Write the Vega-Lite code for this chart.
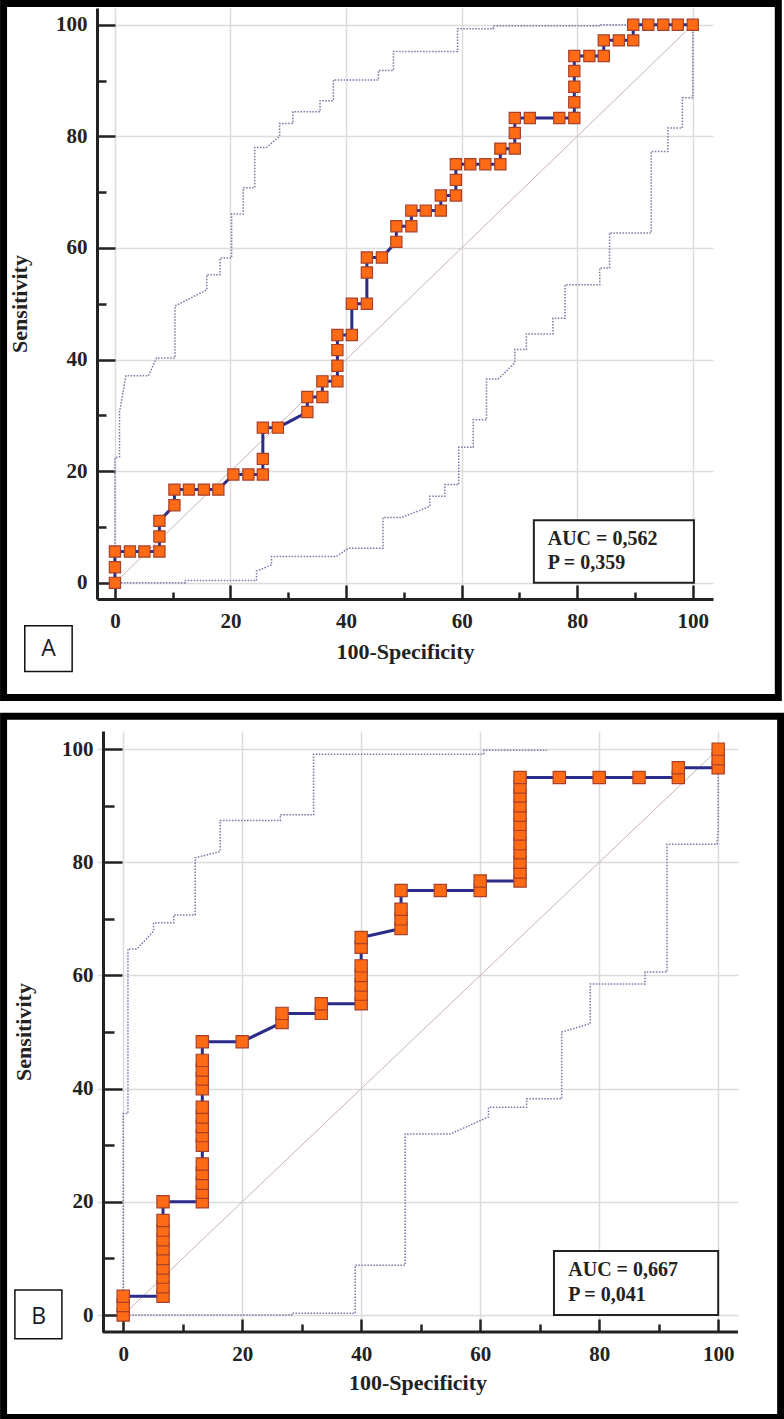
{
  "$schema": "https://vega.github.io/schema/vega-lite/v6.json",
  "background": "white",
  "padding": 0,
  "autosize": {"type": "pad"},
  "config": {
    "view": {"stroke": null},
    "axis": {
      "domainColor": "#222222", "domainWidth": 3,
      "tickColor": "#222222", "tickWidth": 2.5,
      "labelFont": "Liberation Serif", "labelFontWeight": "bold", "labelFontSize": 21, "labelColor": "#222222",
      "titleFont": "Liberation Serif", "titleFontWeight": "bold", "titleFontSize": 22, "titleColor": "#222222",
      "gridColor": "#dcdcdc", "gridWidth": 1.5,
      "labelFlush": false, "labelOverlap": false
    }
  },
  "datasets": {
    "rocA": [
      {"x":0,"y":0},{"x":0,"y":2.8},{"x":0,"y":5.6},{"x":2.6,"y":5.6},{"x":5.1,"y":5.6},{"x":7.7,"y":5.6},{"x":7.7,"y":8.3},{"x":7.7,"y":11.1},
      {"x":10.3,"y":13.9},{"x":10.3,"y":16.7},{"x":12.8,"y":16.7},{"x":15.4,"y":16.7},{"x":17.9,"y":16.7},{"x":20.5,"y":19.4},{"x":23.1,"y":19.4},
      {"x":25.6,"y":19.4},{"x":25.6,"y":22.2},{"x":25.6,"y":27.8},{"x":28.2,"y":27.8},{"x":33.3,"y":30.6},{"x":33.3,"y":33.3},{"x":35.9,"y":33.3},
      {"x":35.9,"y":36.1},{"x":38.5,"y":36.1},{"x":38.5,"y":38.9},{"x":38.5,"y":41.7},{"x":38.5,"y":44.4},{"x":41.0,"y":44.4},{"x":41.0,"y":50.0},
      {"x":43.6,"y":50.0},{"x":43.6,"y":55.6},{"x":43.6,"y":58.3},{"x":46.2,"y":58.3},{"x":48.7,"y":61.1},{"x":48.7,"y":63.9},{"x":51.3,"y":63.9},
      {"x":51.3,"y":66.7},{"x":53.8,"y":66.7},{"x":56.4,"y":66.7},{"x":56.4,"y":69.4},{"x":59.0,"y":69.4},{"x":59.0,"y":72.2},{"x":59.0,"y":75.0},
      {"x":61.5,"y":75.0},{"x":64.1,"y":75.0},{"x":66.7,"y":75.0},{"x":66.7,"y":77.8},{"x":69.2,"y":77.8},{"x":69.2,"y":80.6},{"x":69.2,"y":83.3},
      {"x":71.8,"y":83.3},{"x":76.9,"y":83.3},{"x":79.5,"y":83.3},{"x":79.5,"y":86.1},{"x":79.5,"y":88.9},{"x":79.5,"y":91.7},{"x":79.5,"y":94.4},
      {"x":82.1,"y":94.4},{"x":84.6,"y":94.4},{"x":84.6,"y":97.2},{"x":87.2,"y":97.2},{"x":89.7,"y":97.2},{"x":89.7,"y":100},{"x":92.3,"y":100},
      {"x":94.9,"y":100},{"x":97.4,"y":100},{"x":100,"y":100}
    ],
    "bandA": [
      {"band":"upper","x":0,"y":0},{"band":"upper","x":0,"y":22.4},{"band":"upper","x":0.8,"y":22.6},{"band":"upper","x":0.8,"y":30.6},
      {"band":"upper","x":1.9,"y":37.1},{"band":"upper","x":5.8,"y":37.1},{"band":"upper","x":7.2,"y":40.3},{"band":"upper","x":10.4,"y":40.3},
      {"band":"upper","x":10.4,"y":49.6},{"band":"upper","x":15.9,"y":52.5},{"band":"upper","x":15.9,"y":55.2},{"band":"upper","x":18.2,"y":55.2},
      {"band":"upper","x":18.2,"y":58.2},{"band":"upper","x":20.2,"y":58.2},{"band":"upper","x":20.2,"y":66.1},{"band":"upper","x":22.2,"y":66.1},
      {"band":"upper","x":22.2,"y":70.8},{"band":"upper","x":24.2,"y":70.8},{"band":"upper","x":24.2,"y":78.0},{"band":"upper","x":26.2,"y":78.0},
      {"band":"upper","x":28.5,"y":80.0},{"band":"upper","x":28.5,"y":82.3},{"band":"upper","x":30.8,"y":82.3},{"band":"upper","x":30.8,"y":84.4},
      {"band":"upper","x":35.5,"y":84.4},{"band":"upper","x":35.5,"y":86.4},{"band":"upper","x":37.8,"y":86.4},{"band":"upper","x":37.8,"y":90.1},
      {"band":"upper","x":45.6,"y":90.1},{"band":"upper","x":45.6,"y":91.8},{"band":"upper","x":48.2,"y":91.8},{"band":"upper","x":48.2,"y":95.2},
      {"band":"upper","x":59.3,"y":95.2},{"band":"upper","x":59.3,"y":99.3},{"band":"upper","x":65.5,"y":99.3},{"band":"upper","x":65.5,"y":99.8},
      {"band":"upper","x":84.0,"y":99.8},{"band":"upper","x":84.0,"y":100},{"band":"upper","x":100,"y":100},
      {"band":"lower","x":0,"y":0},{"band":"lower","x":12.2,"y":0},{"band":"lower","x":12.2,"y":0.4},{"band":"lower","x":24.5,"y":0.4},
      {"band":"lower","x":24.5,"y":2.1},{"band":"lower","x":27.1,"y":3.2},{"band":"lower","x":27.1,"y":4.7},{"band":"lower","x":38.3,"y":4.7},
      {"band":"lower","x":40.4,"y":6.2},{"band":"lower","x":46.4,"y":6.2},{"band":"lower","x":46.4,"y":11.7},{"band":"lower","x":49.6,"y":11.7},
      {"band":"lower","x":54.5,"y":13.7},{"band":"lower","x":54.5,"y":15.5},{"band":"lower","x":57.1,"y":15.5},{"band":"lower","x":57.1,"y":17.6},
      {"band":"lower","x":59.5,"y":17.6},{"band":"lower","x":59.5,"y":24.3},{"band":"lower","x":62.0,"y":24.3},{"band":"lower","x":62.0,"y":29.2},
      {"band":"lower","x":64.3,"y":29.2},{"band":"lower","x":64.3,"y":36.5},{"band":"lower","x":66.3,"y":36.5},{"band":"lower","x":69.2,"y":39.4},
      {"band":"lower","x":69.2,"y":41.8},{"band":"lower","x":71.2,"y":41.8},{"band":"lower","x":71.2,"y":44.6},{"band":"lower","x":75.8,"y":44.6},
      {"band":"lower","x":75.8,"y":47.4},{"band":"lower","x":77.9,"y":47.4},{"band":"lower","x":77.9,"y":53.4},{"band":"lower","x":83.9,"y":53.4},
      {"band":"lower","x":83.9,"y":56.4},{"band":"lower","x":85.6,"y":56.4},{"band":"lower","x":85.6,"y":62.7},{"band":"lower","x":92.8,"y":62.7},
      {"band":"lower","x":92.8,"y":77.3},{"band":"lower","x":95.7,"y":77.3},{"band":"lower","x":95.7,"y":81.5},{"band":"lower","x":98.2,"y":81.5},
      {"band":"lower","x":98.2,"y":86.9},{"band":"lower","x":100,"y":86.9},{"band":"lower","x":100,"y":100}
    ],
    "rocB": [
      {"x":0,"y":0},{"x":0,"y":1.7},{"x":0,"y":3.3},{"x":6.7,"y":3.3},{"x":6.7,"y":5.0},{"x":6.7,"y":6.7},{"x":6.7,"y":8.3},{"x":6.7,"y":10.0},
      {"x":6.7,"y":11.7},{"x":6.7,"y":13.3},{"x":6.7,"y":15.0},{"x":6.7,"y":16.7},{"x":6.7,"y":20.0},{"x":13.3,"y":20.0},{"x":13.3,"y":21.7},
      {"x":13.3,"y":23.3},{"x":13.3,"y":25.0},{"x":13.3,"y":26.7},{"x":13.3,"y":30.0},{"x":13.3,"y":31.7},{"x":13.3,"y":33.3},{"x":13.3,"y":35.0},
      {"x":13.3,"y":36.7},{"x":13.3,"y":40.0},{"x":13.3,"y":41.7},{"x":13.3,"y":43.3},{"x":13.3,"y":45.0},{"x":13.3,"y":48.3},{"x":20.0,"y":48.3},
      {"x":26.7,"y":51.7},{"x":26.7,"y":53.3},{"x":33.3,"y":53.3},{"x":33.3,"y":55.0},{"x":40.0,"y":55.0},{"x":40.0,"y":56.7},{"x":40.0,"y":58.3},
      {"x":40.0,"y":60.0},{"x":40.0,"y":61.7},{"x":40.0,"y":65.0},{"x":40.0,"y":66.7},{"x":46.7,"y":68.3},{"x":46.7,"y":70.0},{"x":46.7,"y":71.7},
      {"x":46.7,"y":75.0},{"x":53.3,"y":75.0},{"x":60.0,"y":75.0},{"x":60.0,"y":76.7},{"x":66.7,"y":76.7},{"x":66.7,"y":78.3},{"x":66.7,"y":80.0},
      {"x":66.7,"y":81.7},{"x":66.7,"y":83.3},{"x":66.7,"y":85.0},{"x":66.7,"y":86.7},{"x":66.7,"y":88.3},{"x":66.7,"y":90.0},{"x":66.7,"y":91.7},
      {"x":66.7,"y":93.3},{"x":66.7,"y":95.0},{"x":73.3,"y":95.0},{"x":80.0,"y":95.0},{"x":86.7,"y":95.0},{"x":93.3,"y":95.0},{"x":93.3,"y":96.7},
      {"x":100,"y":96.7},{"x":100,"y":98.3},{"x":100,"y":100}
    ],
    "bandB": [
      {"band":"upper","x":0,"y":0},{"band":"upper","x":0,"y":35.6},{"band":"upper","x":0.8,"y":35.6},{"band":"upper","x":0.8,"y":64.7},
      {"band":"upper","x":2.3,"y":64.7},{"band":"upper","x":5.1,"y":67.8},{"band":"upper","x":5.1,"y":69.3},{"band":"upper","x":8.5,"y":69.3},
      {"band":"upper","x":8.5,"y":70.7},{"band":"upper","x":12.1,"y":70.7},{"band":"upper","x":12.1,"y":80.8},{"band":"upper","x":16.3,"y":81.9},
      {"band":"upper","x":16.3,"y":87.4},{"band":"upper","x":26.4,"y":87.4},{"band":"upper","x":26.4,"y":88.4},{"band":"upper","x":32.0,"y":88.4},
      {"band":"upper","x":32.0,"y":99.1},{"band":"upper","x":60.6,"y":99.1},{"band":"upper","x":60.6,"y":99.8},{"band":"upper","x":71.2,"y":99.8},
      {"band":"lower","x":0,"y":0},{"band":"lower","x":28.3,"y":0},{"band":"lower","x":28.3,"y":0.3},{"band":"lower","x":39.0,"y":0.3},
      {"band":"lower","x":39.0,"y":8.8},{"band":"lower","x":47.4,"y":8.8},{"band":"lower","x":47.4,"y":32.0},{"band":"lower","x":55.0,"y":32.0},
      {"band":"lower","x":61.4,"y":35.0},{"band":"lower","x":61.4,"y":36.7},{"band":"lower","x":67.8,"y":36.7},{"band":"lower","x":67.8,"y":38.2},
      {"band":"lower","x":73.7,"y":38.2},{"band":"lower","x":73.7,"y":50.0},{"band":"lower","x":78.5,"y":51.5},{"band":"lower","x":78.5,"y":58.5},
      {"band":"lower","x":87.7,"y":58.5},{"band":"lower","x":87.7,"y":60.6},{"band":"lower","x":91.4,"y":60.6},{"band":"lower","x":91.4,"y":83.2},
      {"band":"lower","x":99.8,"y":83.2},{"band":"lower","x":100,"y":85.9},{"band":"lower","x":100,"y":100}
    ],
    "diag": [{"x":0,"y":0},{"x":100,"y":100}],
    "one": [{}]
  },
  "vconcat": [
    {
      "width": 616,
      "height": 591,
      "layer": [
        {
          "data": {"name": "rocA"},
          "mark": {"type": "line", "strokeWidth": 0, "opacity": 0},
          "encoding": {
            "x": {"field": "x", "type": "quantitative", "scale": {"domain": [-3.1, 103.5], "nice": false, "zero": false},
              "axis": {"title": "100-Specificity", "values": [0,5,10,15,20,25,30,35,40,45,50,55,60,65,70,75,80,85,90,95,100],
                "labelExpr": "datum.value % 20 === 0 ? datum.label : ''",
                "tickSize": {"condition": {"test": "datum.value % 20 === 0", "value": -14}, "value": -7},
                "gridOpacity": {"condition": {"test": "datum.value % 20 === 0", "value": 1}, "value": 0},
                "labelPadding": 25, "titlePadding": 3}},
            "y": {"field": "y", "type": "quantitative", "scale": {"domain": [-2.9, 103.0], "nice": false, "zero": false},
              "axis": {"title": "Sensitivity", "values": [0,5,10,15,20,25,30,35,40,45,50,55,60,65,70,75,80,85,90,95,100],
                "labelExpr": "datum.value % 20 === 0 ? datum.label : ''",
                "tickSize": {"condition": {"test": "datum.value % 20 === 0", "value": -18}, "value": -9},
                "gridOpacity": {"condition": {"test": "datum.value % 20 === 0", "value": 1}, "value": 0},
                "labelPadding": 28, "titlePadding": 24}},
            "order": {"value": null}
          }
        },
        {
          "data": {"name": "one"},
          "mark": {"type": "rect", "fill": "white", "fillOpacity": 0, "stroke": "#000000", "strokeWidth": 7},
          "encoding": {
            "x": {"datum": -19.27, "type": "quantitative"},
            "x2": {"datum": 114.8},
            "y": {"datum": 103.8, "type": "quantitative"},
            "y2": {"datum": -20.57}
          }
        },
        {
          "data": {"name": "diag"},
          "mark": {"type": "line", "color": "#ccb2ae", "strokeWidth": 1},
          "encoding": {
            "x": {"field": "x", "type": "quantitative"},
            "y": {"field": "y", "type": "quantitative"}
          }
        },
        {
          "data": {"name": "bandA"},
          "mark": {"type": "line", "color": "#767aa6", "strokeWidth": 1.5, "strokeDash": [1.5, 1.5]},
          "encoding": {
            "x": {"field": "x", "type": "quantitative"},
            "y": {"field": "y", "type": "quantitative"},
            "detail": {"field": "band"},
            "order": {"value": null}
          }
        },
        {
          "data": {"name": "rocA"},
          "mark": {"type": "line", "color": "#2b2b8a", "strokeWidth": 3},
          "encoding": {
            "x": {"field": "x", "type": "quantitative"},
            "y": {"field": "y", "type": "quantitative"},
            "order": {"value": null}
          }
        },
        {
          "data": {"name": "rocA"},
          "mark": {"type": "square", "size": 125, "filled": true, "fill": "#ff6a14", "stroke": "#a8402a", "strokeWidth": 1.2, "opacity": 1},
          "encoding": {
            "x": {"field": "x", "type": "quantitative"},
            "y": {"field": "y", "type": "quantitative"}
          }
        },
        {
          "data": {"name": "one"},
          "mark": {"type": "rect", "fill": "white", "stroke": "#222222", "strokeWidth": 2},
          "encoding": {
            "x": {"datum": 72.5, "type": "quantitative"},
            "x2": {"datum": 100.2},
            "y": {"datum": 11.2, "type": "quantitative"},
            "y2": {"datum": 0}
          }
        },
        {
          "data": {"name": "one"},
          "mark": {"type": "text", "align": "left", "baseline": "middle", "font": "Liberation Serif", "fontWeight": "bold", "fontSize": 20, "color": "#222222", "lineHeight": 24},
          "encoding": {
            "x": {"datum": 74.9, "type": "quantitative"},
            "y": {"datum": 7.84, "type": "quantitative"},
            "text": {"value": ["AUC = 0,562", "P = 0,359"]}
          }
        },
        {
          "data": {"name": "one"},
          "mark": {"type": "rect", "fill": "white", "stroke": "#111111", "strokeWidth": 1.5},
          "encoding": {
            "x": {"datum": -15.6, "type": "quantitative"},
            "x2": {"datum": -7.4},
            "y": {"datum": -7.7, "type": "quantitative"},
            "y2": {"datum": -15.9}
          }
        },
        {
          "data": {"name": "one"},
          "mark": {"type": "text", "align": "center", "baseline": "middle", "font": "Open Sans", "fontSize": 23, "color": "#1a1a2a"},
          "encoding": {
            "x": {"datum": -11.5, "type": "quantitative"},
            "y": {"datum": -11.8, "type": "quantitative"},
            "text": {"value": "A"}
          }
        }
      ]
    },
    {
      "width": 641,
      "height": 601,
      "layer": [
        {
          "data": {"name": "rocB"},
          "mark": {"type": "line", "strokeWidth": 0, "opacity": 0},
          "encoding": {
            "x": {"field": "x", "type": "quantitative", "scale": {"domain": [-4.4, 103.33], "nice": false, "zero": false},
              "axis": {"title": "100-Specificity", "values": [0,5,10,15,20,25,30,35,40,45,50,55,60,65,70,75,80,85,90,95,100],
                "labelExpr": "datum.value % 20 === 0 ? datum.label : ''",
                "tickSize": {"condition": {"test": "datum.value % 20 === 0", "value": -13}, "value": -8},
                "gridOpacity": {"condition": {"test": "datum.value % 20 === 0", "value": 1}, "value": 0},
                "domain": false,
                "labelPadding": 24, "titlePadding": 3}},
            "y": {"field": "y", "type": "quantitative", "scale": {"domain": [-3.0, 103.2], "nice": false, "zero": false},
              "axis": {"title": "Sensitivity", "values": [0,5,10,15,20,25,30,35,40,45,50,55,60,65,70,75,80,85,90,95,100],
                "labelExpr": "datum.value % 20 === 0 ? datum.label : ''",
                "tickSize": {"condition": {"test": "datum.value % 20 === 0", "value": -19}, "value": -11},
                "gridOpacity": {"condition": {"test": "datum.value % 20 === 0", "value": 1}, "value": 0},
                "offset": -6,
                "labelPadding": 29, "titlePadding": 26}},
            "order": {"value": null}
          }
        },
        {
          "data": {"name": "one"},
          "mark": {"type": "rect", "fill": "white", "fillOpacity": 0, "stroke": "#000000", "strokeWidth": 7},
          "encoding": {
            "x": {"datum": -20.1, "type": "quantitative"},
            "x2": {"datum": 110.5},
            "y": {"datum": 105.8, "type": "quantitative"},
            "y2": {"datum": -18.1}
          }
        },
        {
          "data": {"name": "one"},
          "mark": {"type": "rule", "color": "#222222", "strokeWidth": 3},
          "encoding": {
            "x": {"datum": -3.39, "type": "quantitative"},
            "x2": {"datum": 103.33},
            "y": {"datum": -3.0, "type": "quantitative"}
          }
        },
        {
          "data": {"name": "diag"},
          "mark": {"type": "line", "color": "#ccb2ae", "strokeWidth": 1},
          "encoding": {
            "x": {"field": "x", "type": "quantitative"},
            "y": {"field": "y", "type": "quantitative"}
          }
        },
        {
          "data": {"name": "bandB"},
          "mark": {"type": "line", "color": "#767aa6", "strokeWidth": 1.5, "strokeDash": [1.5, 1.5]},
          "encoding": {
            "x": {"field": "x", "type": "quantitative"},
            "y": {"field": "y", "type": "quantitative"},
            "detail": {"field": "band"},
            "order": {"value": null}
          }
        },
        {
          "data": {"name": "rocB"},
          "mark": {"type": "line", "color": "#2b2b8a", "strokeWidth": 3},
          "encoding": {
            "x": {"field": "x", "type": "quantitative"},
            "y": {"field": "y", "type": "quantitative"},
            "order": {"value": null}
          }
        },
        {
          "data": {"name": "rocB"},
          "mark": {"type": "square", "size": 150, "filled": true, "fill": "#ff6a14", "stroke": "#a8402a", "strokeWidth": 1.2, "opacity": 1},
          "encoding": {
            "x": {"field": "x", "type": "quantitative"},
            "y": {"field": "y", "type": "quantitative"}
          }
        },
        {
          "data": {"name": "one"},
          "mark": {"type": "rect", "fill": "white", "stroke": "#222222", "strokeWidth": 2},
          "encoding": {
            "x": {"datum": 72.4, "type": "quantitative"},
            "x2": {"datum": 100.0},
            "y": {"datum": 11.3, "type": "quantitative"},
            "y2": {"datum": 0}
          }
        },
        {
          "data": {"name": "one"},
          "mark": {"type": "text", "align": "left", "baseline": "middle", "font": "Liberation Serif", "fontWeight": "bold", "fontSize": 20, "color": "#222222", "lineHeight": 25},
          "encoding": {
            "x": {"datum": 74.8, "type": "quantitative"},
            "y": {"datum": 7.97, "type": "quantitative"},
            "text": {"value": ["AUC = 0,667", "P = 0,041"]}
          }
        },
        {
          "data": {"name": "one"},
          "mark": {"type": "rect", "fill": "white", "stroke": "#111111", "strokeWidth": 1.5},
          "encoding": {
            "x": {"datum": -18.2, "type": "quantitative"},
            "x2": {"datum": -10.3},
            "y": {"datum": 4.4, "type": "quantitative"},
            "y2": {"datum": -4.2}
          }
        },
        {
          "data": {"name": "one"},
          "mark": {"type": "text", "align": "center", "baseline": "middle", "font": "Open Sans", "fontSize": 23, "color": "#1a1a2a"},
          "encoding": {
            "x": {"datum": -14.2, "type": "quantitative"},
            "y": {"datum": -0.3, "type": "quantitative"},
            "text": {"value": "B"}
          }
        }
      ]
    }
  ],
  "spacing": 10
}
